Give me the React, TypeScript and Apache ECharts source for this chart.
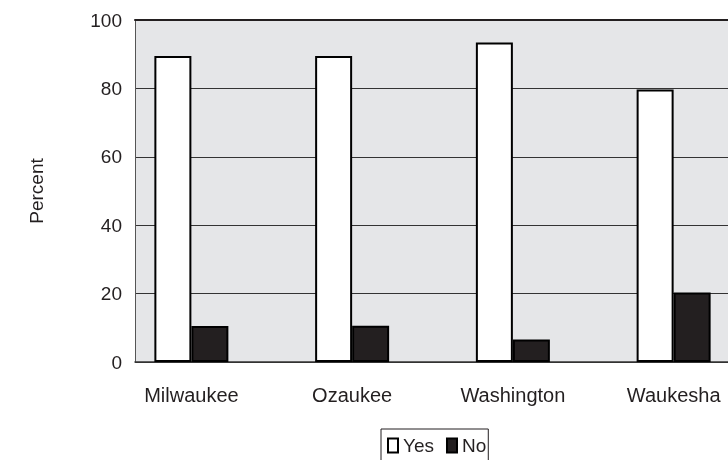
import React, { useEffect, useRef } from "react";
import * as echarts from "echarts";

const categories = ["Milwaukee", "Ozaukee", "Washington", "Waukesha"];
const yesValues = [89.5, 89.5, 93.4, 79.7];
const noValues = [10.5, 10.6, 6.6, 20.3];
const yTicks = { min: 0, max: 100, interval: 20 };

const FONT = "'Liberation Sans', Arial, sans-serif";
const INK = "#231f20";

export default function App() {
  const ref = useRef<HTMLDivElement>(null);
  useEffect(() => {
    if (!ref.current) return;
    const chart = echarts.init(ref.current, null, { renderer: "svg" });
    chart.setOption({
      animation: false,
      textStyle: { fontFamily: FONT },
      grid: [
        {
          left: 135,
          top: 20,
          bottom: 98,
          right: 0,
          show: true,
          backgroundColor: "#e5e6e8",
          borderWidth: 0,
        },
        {
          left: 111,
          width: 643,
          top: 20,
          bottom: 98,
        },
      ],
      legend: {
        data: ["Yes", "No"],
        left: 381,
        top: 429,
        orient: "horizontal",
        icon: "rect",
        itemWidth: 10,
        itemHeight: 14,
        itemGap: 12,
        borderColor: INK,
        borderWidth: 1,
        borderRadius: 0,
        padding: [7, 2, 8, 6],
        textStyle: { fontSize: 19, color: INK, fontFamily: FONT },
      },
      xAxis: [
        {
          gridIndex: 0,
          type: "value",
          min: 0,
          max: 1,
          axisLine: { show: true, lineStyle: { color: "#333", width: 1.5 } },
          axisTick: { show: false },
          axisLabel: { show: false },
          splitLine: { show: false },
        },
        {
          gridIndex: 1,
          type: "category",
          data: categories,
          axisLine: { show: false },
          axisTick: { show: false },
          axisLabel: { fontSize: 20, color: INK, margin: 23, fontFamily: FONT },
          splitLine: { show: false },
        },
        {
          gridIndex: 0,
          type: "value",
          position: "top",
          min: 0,
          max: 1,
          axisLine: { show: true, lineStyle: { color: INK, width: 2 } },
          axisTick: { show: false },
          axisLabel: { show: false },
          splitLine: { show: false },
        },
      ],
      yAxis: [
        {
          gridIndex: 0,
          type: "value",
          min: yTicks.min,
          max: yTicks.max,
          interval: yTicks.interval,
          name: "Percent",
          nameLocation: "middle",
          nameGap: 89,
          nameTextStyle: { fontSize: 19, color: INK, fontFamily: FONT },
          axisLine: { show: true, lineStyle: { color: "#555", width: 1 } },
          axisTick: { show: false },
          axisLabel: { fontSize: 19, color: INK, margin: 13, fontFamily: FONT },
          splitLine: { show: true, lineStyle: { color: "#333", width: 1.2 } },
        },
        {
          gridIndex: 1,
          type: "value",
          min: yTicks.min,
          max: yTicks.max,
          show: false,
        },
      ],
      series: [
        {
          name: "Yes",
          type: "bar",
          xAxisIndex: 1,
          yAxisIndex: 1,
          data: yesValues,
          barWidth: 37,
          barGap: "0%",
          itemStyle: { color: "#ffffff", borderColor: "#000", borderWidth: 2 },
        },
        {
          name: "No",
          type: "bar",
          xAxisIndex: 1,
          yAxisIndex: 1,
          data: noValues,
          barWidth: 37,
          barGap: "0%",
          itemStyle: { color: INK, borderColor: "#000", borderWidth: 2 },
        },
      ],
    });
    return () => chart.dispose();
  }, []);
  return (
    <div
      ref={ref}
      style={{ position: "fixed", left: 0, top: 0, width: 800, height: 460 }}
    />
  );
}
